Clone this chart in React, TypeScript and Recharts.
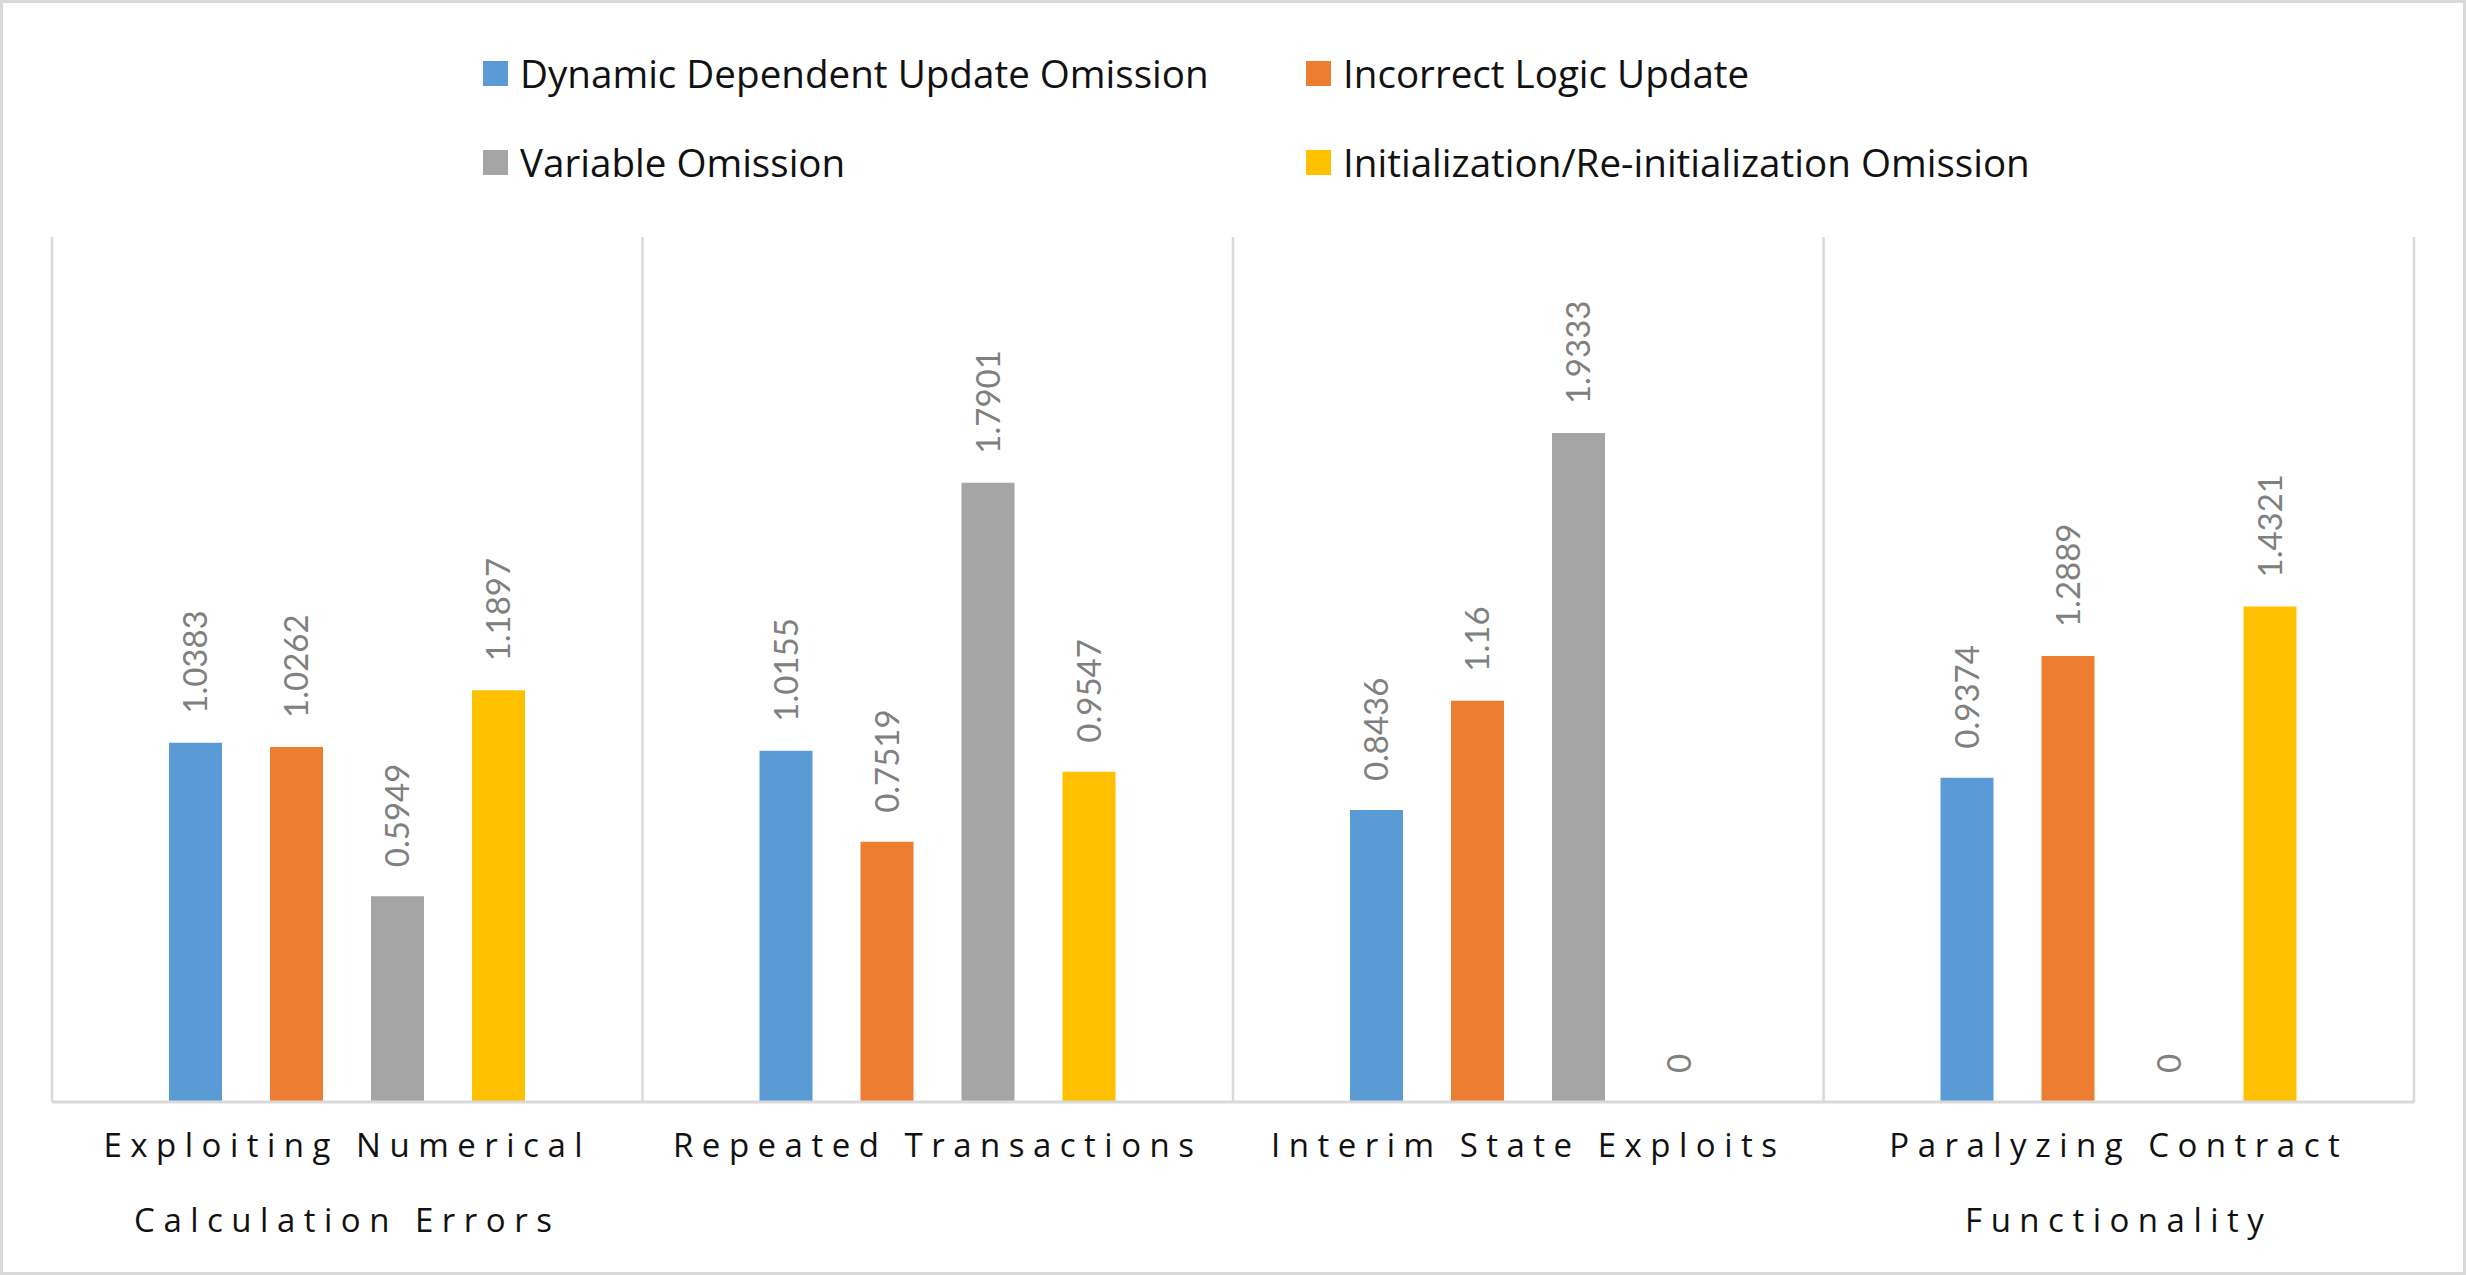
import React from 'react';
import { BarChart, Bar, XAxis, YAxis, CartesianGrid, Legend, LabelList } from 'recharts';

const categories = [
  'Exploiting Numerical Calculation Errors',
  'Repeated Transactions',
  'Interim State Exploits',
  'Paralyzing Contract Functionality',
];
const dynamicDependentUpdate = [1.0383, 1.0155, 0.8436, 0.9374];
const incorrectLogicUpdate = [1.0262, 0.7519, 1.16, 1.2889];
const variableOmission = [0.5949, 1.7901, 1.9333, 0];
const initOmission = [1.1897, 0.9547, 0, 1.4321];

const seriesNames = [
  'Dynamic Dependent Update Omission',
  'Incorrect Logic Update',
  'Variable Omission',
  'Initialization/Re-initialization Omission',
];
const seriesColors = ['#5B9BD5', '#ED7D31', '#A5A5A5', '#FFC000'];
const seriesKeys = ['ddu', 'ilu', 'vo', 'iro'];
const boundaryTicks = [0, 1, 2, 3, 4];

const data = categories.map((name, i) => ({
  name,
  pos: i + 0.5,
  ddu: dynamicDependentUpdate[i],
  ilu: incorrectLogicUpdate[i],
  vo: variableOmission[i],
  iro: initOmission[i],
}));

const FONT = '"Open Sans", Lato, sans-serif';
const LABEL_FONT = 'Lato, "Open Sans", sans-serif';
const GRID = '#d9d9d9';

// Excel-ish wrap: break when a line would go past 22 chars
const wrapLabel = (s: string, max = 22) => {
  const lines: string[] = [];
  let cur = '';
  s.split(' ').forEach((w) => {
    if (cur && (cur + ' ' + w).length > max) {
      lines.push(cur);
      cur = w;
    } else {
      cur = cur ? cur + ' ' + w : w;
    }
  });
  if (cur) lines.push(cur);
  return lines;
};

const CategoryTick = (props: any) => {
  const { x, y, payload } = props;
  const lines = wrapLabel(String(payload.value));
  return (
    <text x={x} y={y + 55} textAnchor="middle" fontSize={33} letterSpacing={8.5} fill="#111" fontFamily={FONT}>
      {lines.map((l, i) => (
        <tspan key={i} x={x} dy={i === 0 ? 0 : 75}>
          {l}
        </tspan>
      ))}
    </text>
  );
};

const ValueLabel = (props: any) => {
  const { x, y, width, value } = props;
  const cx = x + width / 2;
  const ty = y - 29;
  return (
    <text
      x={cx}
      y={ty}
      dy="0.36em"
      transform={`rotate(-90 ${cx} ${ty})`}
      textAnchor="start"
      fontSize={33}
      fill="#808080"
      fontFamily={LABEL_FONT}
    >
      {String(value)}
    </text>
  );
};

const LegendBox = () => (
  <div
    style={{
      height: 234,
      boxSizing: 'border-box',
      paddingLeft: 480,
      paddingTop: 50,
      display: 'grid',
      gridTemplateColumns: '823px auto',
      gridAutoRows: '40px',
      rowGap: 49,
      fontFamily: FONT,
      fontSize: 38.6,
      color: '#111',
    }}
  >
    {seriesNames.map((n, i) => (
      <div key={n} style={{ display: 'flex', alignItems: 'center', whiteSpace: 'nowrap' }}>
        <span style={{ width: 25, height: 25, background: seriesColors[i], marginRight: 12, flexShrink: 0 }} />
        <span>{n}</span>
      </div>
    ))}
  </div>
);

export default function App() {
  return (
    <div
      style={{
        position: 'absolute',
        left: 0,
        top: 0,
        width: 2466,
        height: 1275,
        border: `3px solid ${GRID}`,
        boxSizing: 'border-box',
        background: '#fff',
      }}
    >
      <BarChart
        width={2460}
        height={1269}
        data={data}
        margin={{ top: 0, right: 49, bottom: 0, left: 49 }}
        barGap={48}
      >
        <CartesianGrid xAxisId="bounds" vertical horizontal={false} stroke={GRID} strokeWidth={2.5} />
        <XAxis
          dataKey="name"
          height={170}
          tick={<CategoryTick />}
          tickLine={false}
          tickSize={0}
          tickMargin={0}
          interval={0}
          axisLine={{ stroke: GRID, strokeWidth: 3 }}
        />
        <XAxis xAxisId="bounds" dataKey="pos" type="number" domain={[0, 4]} ticks={boundaryTicks} hide />
        <YAxis domain={[0, 2.5]} hide />
        <Legend verticalAlign="top" content={<LegendBox />} wrapperStyle={{ top: 0, left: 0, width: 2460 }} />
        {seriesKeys.map((k, i) => (
          <Bar
            key={k}
            dataKey={k}
            name={seriesNames[i]}
            fill={seriesColors[i]}
            barSize={53}
            minPointSize={0.01}
            isAnimationActive={false}
          >
            <LabelList dataKey={k} content={<ValueLabel />} />
          </Bar>
        ))}
      </BarChart>
    </div>
  );
}
